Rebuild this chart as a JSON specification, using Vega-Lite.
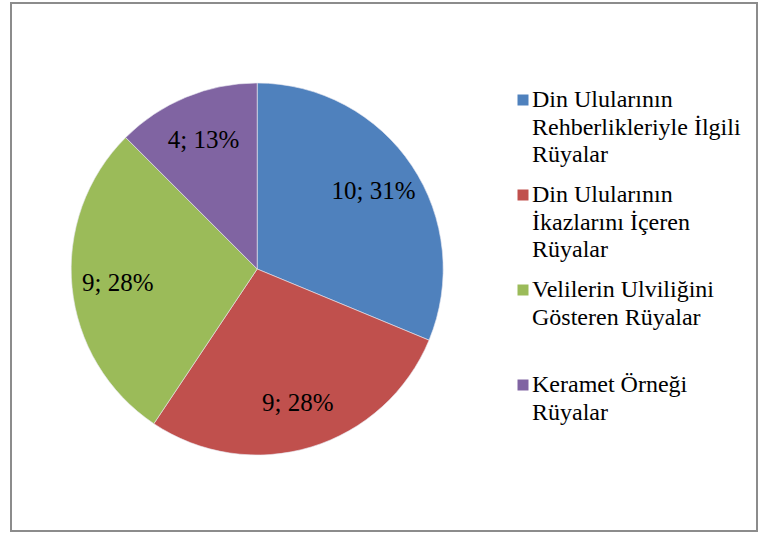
{
  "$schema": "https://vega.github.io/schema/vega-lite/v6.json",
  "autosize": {"type": "fit", "contains": "padding"},
  "width": 759,
  "height": 536,
  "padding": {"left": 11, "top": 3, "right": 2, "bottom": 5},
  "background": "white",
  "view": {"stroke": "#8c8c8c", "strokeWidth": 2, "fill": "white"},
  "config": {
    "font": "Liberation Serif",
    "style": {"guide-label": {"lineHeight": 27.5, "font": "Liberation Serif"}}
  },
  "data": {
    "values": [
      {"kategori": "Din Ulularının Rehberlikleriyle İlgili Rüyalar", "sayi": 10, "yuzde": "31%", "sira": 1},
      {"kategori": "Din Ulularının İkazlarını İçeren Rüyalar", "sayi": 9, "yuzde": "28%", "sira": 2},
      {"kategori": "Velilerin Ulviliğini Gösteren Rüyalar", "sayi": 9, "yuzde": "28%", "sira": 3},
      {"kategori": "Keramet Örneği Rüyalar", "sayi": 4, "yuzde": "13%", "sira": 4}
    ]
  },
  "transform": [
    {"calculate": "datum.sayi + '; ' + datum.yuzde", "as": "etiket"}
  ],
  "encoding": {
    "theta": {"field": "sayi", "type": "quantitative", "stack": true},
    "order": {"field": "sira", "type": "quantitative"}
  },
  "layer": [
    {
      "mark": {"type": "arc", "outerRadius": 186, "x": {"expr": "width*0.33"}, "y": {"expr": "height/2+2"}, "stroke": "#e8e8f0", "strokeWidth": 0.6},
      "encoding": {
        "color": {
          "field": "kategori",
          "type": "nominal",
          "sort": ["Din Ulularının Rehberlikleriyle İlgili Rüyalar", "Din Ulularının İkazlarını İçeren Rüyalar", "Velilerin Ulviliğini Gösteren Rüyalar", "Keramet Örneği Rüyalar"],
          "scale": {
            "domain": ["Din Ulularının Rehberlikleriyle İlgili Rüyalar", "Din Ulularının İkazlarını İçeren Rüyalar", "Velilerin Ulviliğini Gösteren Rüyalar", "Keramet Örneği Rüyalar"],
            "range": ["#4F81BD", "#C0504D", "#9BBB59", "#8064A2"]
          },
          "legend": {
            "title": null,
            "orient": "none",
            "legendX": 500,
            "legendY": 85,
            "padding": 0,
            "symbolType": "square",
            "symbolSize": 121,
            "symbolStrokeWidth": 0,
            "labelFont": "Liberation Serif",
            "labelFontSize": 24,
            "labelColor": "black",
            "labelOffset": -3,
            "labelLimit": 300,
            "rowPadding": 16,
            "labelExpr": "datum.label == 'Din Ulularının Rehberlikleriyle İlgili Rüyalar' ? ['Din Ulularının', 'Rehberlikleriyle İlgili', 'Rüyalar'] : datum.label == 'Din Ulularının İkazlarını İçeren Rüyalar' ? ['Din Ulularının', 'İkazlarını İçeren', 'Rüyalar'] : datum.label == 'Velilerin Ulviliğini Gösteren Rüyalar' ? ['Velilerin Ulviliğini', 'Gösteren Rüyalar', ' '] : ['Keramet Örneği', 'Rüyalar']"
          }
        }
      }
    },
    {
      "mark": {"type": "text", "radius": 140, "x": {"expr": "width*0.33"}, "y": {"expr": "height/2+2"}, "font": "Liberation Serif", "fontSize": 25, "color": "black"},
      "encoding": {"text": {"field": "etiket"}}
    }
  ]
}
